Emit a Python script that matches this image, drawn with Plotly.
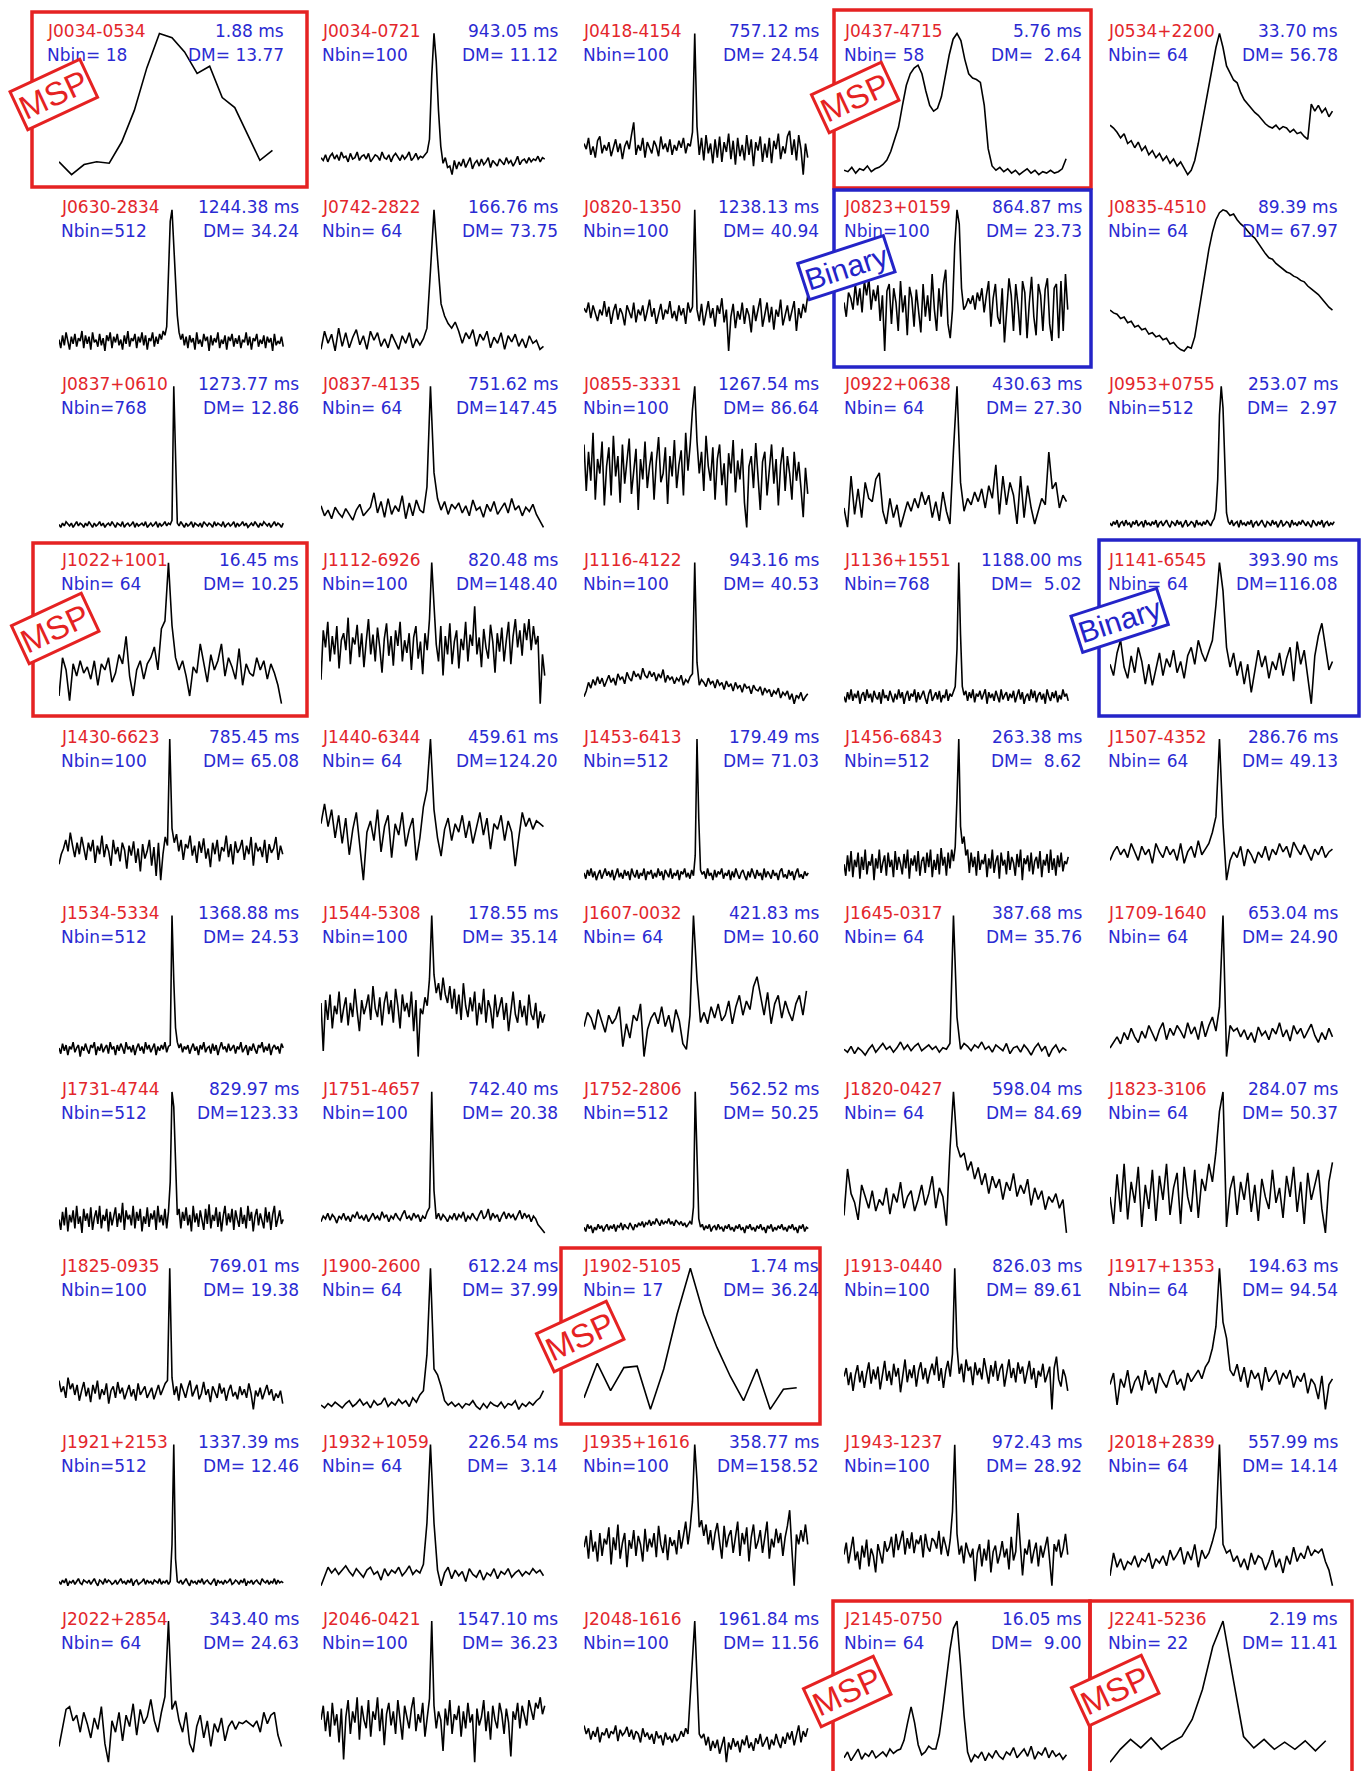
import plotly.graph_objects as go

W, H = 1362, 1771

names = ["J0034-0534", "J0034-0721", "J0418-4154", "J0437-4715", "J0534+2200",
         "J0630-2834", "J0742-2822", "J0820-1350", "J0823+0159", "J0835-4510",
         "J0837+0610", "J0837-4135", "J0855-3331", "J0922+0638", "J0953+0755",
         "J1022+1001", "J1112-6926", "J1116-4122", "J1136+1551", "J1141-6545",
         "J1430-6623", "J1440-6344", "J1453-6413", "J1456-6843", "J1507-4352",
         "J1534-5334", "J1544-5308", "J1607-0032", "J1645-0317", "J1709-1640",
         "J1731-4744", "J1751-4657", "J1752-2806", "J1820-0427", "J1823-3106",
         "J1825-0935", "J1900-2600", "J1902-5105", "J1913-0440", "J1917+1353",
         "J1921+2153", "J1932+1059", "J1935+1616", "J1943-1237", "J2018+2839",
         "J2022+2854", "J2046-0421", "J2048-1616", "J2145-0750", "J2241-5236"]

periods = [1.88, 943.05, 757.12, 5.76, 33.70,
           1244.38, 166.76, 1238.13, 864.87, 89.39,
           1273.77, 751.62, 1267.54, 430.63, 253.07,
           16.45, 820.48, 943.16, 1188.00, 393.90,
           785.45, 459.61, 179.49, 263.38, 286.76,
           1368.88, 178.55, 421.83, 387.68, 653.04,
           829.97, 742.40, 562.52, 598.04, 284.07,
           769.01, 612.24, 1.74, 826.03, 194.63,
           1337.39, 226.54, 358.77, 972.43, 557.99,
           343.40, 1547.10, 1961.84, 16.05, 2.19]

nbins = [18, 100, 100, 58, 64,
         512, 64, 100, 100, 64,
         768, 64, 100, 64, 512,
         64, 100, 100, 768, 64,
         100, 64, 512, 512, 64,
         512, 100, 64, 64, 64,
         512, 100, 512, 64, 64,
         100, 64, 17, 100, 64,
         512, 64, 100, 100, 64,
         64, 100, 100, 64, 22]

dms = [13.77, 11.12, 24.54, 2.64, 56.78,
       34.24, 73.75, 40.94, 23.73, 67.97,
       12.86, 147.45, 86.64, 27.30, 2.97,
       10.25, 148.40, 40.53, 5.02, 116.08,
       65.08, 124.20, 71.03, 8.62, 49.13,
       24.53, 35.14, 10.60, 35.76, 24.90,
       123.33, 20.38, 50.25, 84.69, 50.37,
       19.38, 37.99, 36.24, 89.61, 94.54,
       12.46, 3.14, 158.52, 28.92, 14.14,
       24.63, 36.23, 11.56, 9.00, 11.41]

# ---- pulse profiles (relative intensity) ----
prof_J0034_0534 = [10, 1, 8, 10, 9, 24, 46, 76, 100, 97, 87, 72, 77, 55, 48, 30, 11, 18]
prof_J0034_0721 = [12, 10, 14, 9, 13, 15, 11, 14, 10, 16, 12, 13, 9, 15, 11, 12, 16, 10, 13, 14,
                   11, 15, 9, 12, 14, 13, 10, 16, 12, 11, 14, 9, 13, 15, 12, 10, 14, 11, 13, 16,
                   10, 12, 15, 11, 13, 12, 14, 16, 25, 70, 100, 80, 45, 20, 8, 12, 5, 6, 0, 10,
                   4, 9, 6, 11, 5, 9, 12, 4, 8, 10, 6, 11, 7, 9, 12, 5, 10, 8, 6, 11,
                   9, 7, 12, 8, 10, 6, 9, 13, 7, 10, 11, 8, 12, 9, 11, 10, 13, 9, 12, 11]
prof_J0418_4154 = [22, 18, 26, 14, 20, 12, 24, 27, 15, 21, 17, 23, 13, 19, 25, 16, 22, 11, 20, 24,
                   18, 28, 37, 14, 21, 17, 26, 12, 23, 19, 15, 24, 20, 13, 27, 18, 22, 16, 25, 14,
                   21, 17, 24, 19, 26, 15, 22, 20, 30, 100, 34, 14, 26, 10, 28, 15, 22, 8, 25, 12,
                   27, 9, 23, 16, 29, 11, 24, 7, 26, 13, 21, 10, 28, 14, 25, 6, 23, 17, 27, 9,
                   22, 12, 26, 8, 24, 18, 29, 11, 20, 15, 27, 31, 14, 25, 10, 28, 18, 0, 22, 12]
prof_J0437_4715 = [5, 4, 7, 3, 6, 5, 8, 4, 6, 7, 9, 12, 18, 26, 35, 50, 64, 72, 76, 78,
                   72, 60, 50, 46, 48, 56, 70, 85, 96, 100, 95, 82, 72, 69, 68, 66, 50, 20, 8, 5,
                   7, 4, 6, 3, 5, 2, 4, 6, 3, 5, 2, 4, 3, 5, 3, 4, 6, 13]
prof_J0534_2200 = [35, 33, 30, 26, 29, 22, 24, 19, 23, 17, 20, 14, 17, 12, 15, 10, 13, 8, 11, 6,
                   9, 4, 0, 3, 10, 22, 36, 50, 64, 78, 90, 100, 90, 77, 72, 67, 65, 58, 53, 50,
                   47, 44, 42, 39, 36, 34, 33, 35, 32, 34, 33, 30, 32, 29, 30, 27, 25, 50, 45, 49,
                   44, 47, 41, 45]
prof_J0630_2834 = [9, 3, 12, 5, 14, 7, 2, 11, 6, 13, 4, 10, 8, 15, 3, 12,
                   6, 11, 2, 14, 7, 9, 4, 13, 5, 10, 1, 12, 8, 14, 3, 11,
                   7, 13, 5, 9, 2, 12, 6, 15, 4, 10, 8, 13, 3, 11, 7, 14,
                   5, 12, 2, 10, 8, 14, 4, 11, 6, 13, 9, 15, 12, 18, 55, 92,
                   100, 78, 48, 26, 14, 9, 13, 5, 11, 3, 12, 7, 10, 2, 14, 6,
                   9, 4, 13, 8, 11, 1, 12, 5, 10, 7, 14, 3, 9, 6, 12, 2,
                   11, 8, 13, 4, 10, 6, 12, 3, 9, 7, 14, 5, 11, 2, 10, 8,
                   13, 4, 9, 6, 12, 3, 11, 7, 10, 1, 13, 5, 8, 6, 11, 4]
prof_J0742_2822 = [8, 20, 12, 18, 7, 22, 10, 19, 9, 16, 21, 11, 17, 8, 20, 14, 19, 10, 15, 9,
                   18, 13, 8, 17, 12, 19, 9, 15, 11, 15, 22, 60, 100, 68, 38, 30, 25, 22, 26, 20,
                   12, 19, 15, 21, 10, 18, 14, 20, 9, 16, 12, 19, 8, 17, 13, 18, 10, 15, 9, 17,
                   12, 14, 8, 10]
prof_J0820_1350 = [31, 28, 35, 24, 33, 27, 22, 30, 26, 36, 25, 32, 20, 29, 34, 23, 31, 27, 19, 33,
                   28, 24, 35, 21, 30, 26, 33, 22, 29, 37, 25, 31, 20, 28, 34, 23, 30, 27, 36, 24,
                   29, 22, 33, 26, 31, 20, 35, 28, 32, 100, 30, 22, 34, 19, 28, 36, 24, 31, 18, 33,
                   27, 38, 21, 30, 1, 25, 34, 17, 29, 23, 35, 20, 31, 26, 14, 33, 22, 30, 38, 18,
                   28, 35, 21, 32, 16, 30, 25, 37, 19, 27, 33, 22, 29, 36, 15, 31, 24, 34, 28, 40]
prof_J0823_0159 = [35, 25, 42, 38, 30, 48, 33, 45, 28, 50, 40, 52, 30, 44, 36, 47, 22, 40, 1, 43,
                   48, 20, 45, 35, 15, 50, 28, 40, 12, 46, 38, 18, 44, 30, 14, 48, 25, 40, 22, 55,
                   30, 15, 45, 25, 48, 58, 20, 10, 30, 75, 100, 90, 45, 30, 33, 38, 34, 40, 30, 42,
                   36, 45, 28, 40, 50, 18, 38, 48, 25, 20, 45, 7, 30, 52, 40, 15, 48, 33, 12, 50,
                   42, 10, 35, 53, 25, 12, 48, 40, 15, 44, 52, 20, 8, 45, 48, 10, 50, 15, 55, 30]
prof_J0835_4510 = [29, 27, 26, 23, 24, 20, 21, 17, 18, 15, 16, 12, 13, 10, 11, 8, 9, 5, 6, 3,
                   1, 0, 3, 2, 10, 25, 42, 58, 72, 84, 93, 98, 100, 99, 96, 97, 93, 90, 88, 85,
                   82, 80, 76, 73, 69, 66, 65, 62, 60, 58, 56, 55, 53, 52, 50, 49, 46, 44, 42, 40,
                   37, 34, 31, 29]
prof_J0837_0610 = [3, 1, 4, 2, 5, 3, 2, 4, 1, 3, 5, 2, 4, 3, 1, 4,
                   2, 5, 3, 1, 4, 2, 3, 5, 2, 4, 1, 3, 4, 2, 5, 3,
                   1, 4, 3, 2, 5, 1, 3, 4, 2, 3, 5, 1, 4, 2, 3, 4,
                   2, 5, 1, 3, 4, 2, 3, 5, 1, 4, 2, 3, 5, 2, 4, 3,
                   6, 100, 48, 4, 2, 5, 3, 1, 4, 2, 3, 5, 1, 4, 3, 2,
                   4, 1, 5, 3, 2, 4, 3, 1, 5, 2, 4, 3, 2, 5, 1, 3,
                   4, 2, 3, 5, 1, 4, 2, 3, 5, 2, 4, 1, 3, 4, 2, 5,
                   3, 1, 4, 2, 5, 3, 2, 4, 1, 3, 5, 2, 4, 3, 1, 4]
prof_J0837_4135 = [17, 10, 14, 8, 16, 12, 9, 15, 11, 7, 14, 18, 10, 13, 16, 26, 12, 20, 9, 22,
                   11, 17, 13, 24, 8, 19, 10, 21, 14, 12, 30, 100, 40, 22, 14, 20, 11, 18, 15, 19,
                   12, 17, 10, 21, 14, 16, 9, 18, 13, 20, 11, 15, 19, 12, 22, 14, 17, 10, 16, 13,
                   18, 11, 6, 2]
prof_J0855_3331 = [60, 28, 55, 35, 68, 22, 50, 40, 62, 18, 45, 58, 25, 66, 38, 52, 20, 60, 33, 48,
                   64, 26, 42, 57, 15, 50, 36, 62, 30, 45, 55, 22, 48, 65, 34, 40, 58, 19, 52, 38,
                   63, 30, 46, 56, 25, 68, 42, 60, 84, 100, 62, 40, 55, 28, 66, 45, 35, 58, 22, 50,
                   60, 32, 47, 18, 54, 40, 63, 27, 49, 36, 57, 20, 3, 45, 52, 30, 61, 38, 15, 48,
                   55, 25, 42, 60, 33, 50, 18, 46, 58, 28, 52, 40, 22, 55, 35, 48, 30, 10, 44, 26]
prof_J0922_0638 = [24, 12, 44, 20, 36, 18, 40, 30, 28, 42, 46, 22, 14, 30, 18, 26, 12, 20, 28, 22,
                   30, 24, 34, 26, 32, 18, 28, 16, 34, 22, 14, 60, 100, 40, 22, 30, 26, 34, 28, 36,
                   24, 38, 30, 51, 20, 44, 26, 40, 32, 14, 44, 18, 38, 24, 14, 22, 30, 26, 59, 36,
                   40, 24, 32, 28]
prof_J0953_0755 = [5, 3, 6, 4, 7, 2, 5, 6, 3, 7, 4, 5, 2, 6, 4, 7,
                   3, 5, 6, 2, 7, 4, 5, 3, 6, 4, 7, 2, 5, 6, 3, 5,
                   7, 4, 2, 6, 5, 3, 7, 4, 6, 2, 5, 7, 3, 4, 6, 5,
                   2, 7, 4, 5, 3, 6, 4, 7, 5, 3, 6, 8, 14, 35, 80, 100,
                   85, 40, 12, 6, 4, 7, 3, 5, 6, 2, 7, 4, 5, 3, 6, 4,
                   7, 2, 5, 6, 3, 5, 7, 4, 2, 6, 5, 3, 7, 4, 6, 2,
                   5, 7, 3, 4, 6, 5, 2, 7, 4, 5, 3, 6, 4, 7, 5, 3,
                   6, 4, 2, 7, 5, 3, 6, 4, 7, 2, 5, 6, 3, 5, 4, 6]
prof_J1022_1001 = [13, 38, 30, 10, 34, 26, 36, 28, 32, 24, 36, 20, 34, 30, 38, 22, 28, 40, 34, 52,
                   26, 13, 30, 36, 24, 34, 38, 45, 30, 57, 62, 100, 59, 38, 30, 36, 26, 13, 32, 28,
                   47, 34, 22, 40, 30, 36, 47, 26, 38, 32, 24, 44, 20, 34, 28, 26, 38, 30, 36, 24,
                   34, 28, 20, 8]
prof_J1112_6926 = [17, 52, 40, 58, 30, 48, 35, 55, 25, 45, 50, 38, 61, 28, 47, 42, 56, 33, 50, 26,
                   44, 60, 35, 49, 30, 54, 40, 22, 46, 57, 34, 48, 27, 52, 41, 58, 30, 45, 36, 50,
                   24, 47, 55, 32, 44, 21, 50, 38, 60, 100, 70, 42, 30, 55, 20, 48, 35, 57, 28, 44,
                   52, 25, 46, 38, 58, 30, 49, 41, 69, 35, 47, 26, 53, 40, 32, 56, 44, 22, 50, 37,
                   54, 30, 45, 58, 28, 48, 60, 40, 52, 34, 57, 45, 60, 38, 55, 42, 48, 0, 35, 20]
prof_J1116_4122 = [6, 10, 16, 12, 18, 14, 20, 15, 19, 13, 17, 21, 16, 19, 14, 22, 18, 20, 15, 23,
                   19, 17, 24, 20, 22, 18, 26, 21, 19, 24, 20, 23, 17, 22, 19, 25, 16, 21, 18, 20,
                   15, 19, 17, 21, 14, 18, 16, 20, 22, 100, 30, 14, 18, 16, 13, 19, 15, 17, 12, 18,
                   14, 16, 11, 17, 13, 15, 10, 16, 12, 14, 9, 15, 12, 13, 8, 14, 11, 10, 13, 7,
                   12, 9, 11, 6, 10, 8, 12, 5, 9, 7, 10, 4, 8, 1, 7, 5, 9, 3, 6, 8]
prof_J1136_1551 = [7, 3, 10, 5, 12, 4, 9, 6, 11, 2, 8, 10, 4, 12, 6, 9,
                   3, 11, 7, 5, 10, 2, 12, 6, 8, 4, 11, 7, 3, 9, 5, 12,
                   6, 10, 2, 8, 11, 4, 9, 7, 12, 3, 10, 5, 8, 11, 6, 2,
                   9, 12, 4, 7, 10, 5, 11, 3, 8, 6, 12, 4, 9, 7, 11, 14,
                   40, 100, 50, 14, 8, 11, 4, 10, 6, 12, 3, 9, 7, 11, 5, 8,
                   12, 2, 10, 6, 9, 4, 11, 7, 3, 12, 5, 8, 10, 4, 9, 6,
                   11, 3, 8, 12, 5, 10, 2, 7, 9, 4, 12, 6, 11, 3, 8, 10,
                   5, 9, 2, 12, 7, 4, 10, 6, 11, 3, 8, 5, 12, 7, 9, 4]
prof_J1141_6545 = [28, 20, 36, 45, 26, 18, 34, 22, 40, 30, 14, 28, 13, 24, 36, 20, 32, 26, 38, 22,
                   30, 18, 34, 40, 28, 45, 36, 30, 38, 45, 70, 100, 80, 40, 26, 36, 20, 30, 14, 28,
                   8, 22, 38, 26, 34, 18, 30, 24, 36, 20, 32, 40, 16, 44, 28, 38, 20, 0, 34, 48,
                   57, 40, 24, 30]
prof_J1430_6623 = [13, 20, 24, 30, 22, 35, 26, 18, 28, 20, 32, 24, 16, 28, 22, 30, 14, 26, 20, 33,
                   18, 27, 22, 12, 30, 20, 25, 15, 28, 23, 10, 26, 19, 29, 14, 24, 8, 27, 17, 22,
                   30, 12, 25, 5, 28, 2, 20, 32, 26, 100, 38, 28, 34, 22, 30, 16, 27, 24, 33, 19,
                   26, 14, 29, 21, 31, 17, 24, 11, 28, 20, 30, 15, 25, 22, 33, 18, 27, 13, 29, 21,
                   24, 30, 16, 26, 20, 32, 12, 28, 22, 25, 18, 30, 14, 27, 21, 24, 32, 16, 26, 20]
prof_J1440_6344 = [40, 54, 38, 50, 30, 46, 26, 44, 18, 36, 48, 22, 0, 34, 42, 28, 50, 20, 38, 46,
                   16, 40, 32, 48, 24, 36, 44, 14, 30, 52, 64, 100, 50, 30, 17, 36, 44, 28, 40, 34,
                   46, 30, 42, 26, 38, 48, 32, 44, 22, 40, 36, 46, 28, 42, 34, 10, 30, 48, 38, 44,
                   36, 42, 40, 38]
prof_J1453_6413 = [8, 4, 10, 6, 11, 5, 9, 3, 7, 10, 4, 8, 11, 6, 9, 5,
                   10, 3, 7, 11, 5, 8, 4, 10, 6, 9, 3, 11, 7, 5, 10, 4,
                   8, 6, 11, 3, 9, 7, 10, 4, 8, 5, 11, 6, 9, 3, 10, 7,
                   5, 11, 4, 8, 6, 10, 3, 9, 7, 11, 5, 8, 4, 10, 6, 20,
                   100, 45, 10, 7, 9, 4, 11, 6, 8, 3, 10, 5, 9, 7, 11, 4,
                   8, 6, 10, 3, 9, 5, 11, 7, 4, 8, 10, 6, 3, 9, 5, 11,
                   7, 4, 10, 6, 8, 3, 11, 5, 9, 7, 4, 10, 6, 8, 3, 9,
                   11, 5, 7, 4, 10, 6, 9, 3, 8, 11, 5, 7, 4, 9, 6, 8]
prof_J1456_6843 = [14, 6, 20, 9, 23, 5, 17, 12, 22, 4, 19, 10, 24, 7, 16, 13,
                   21, 3, 18, 11, 24, 8, 15, 20, 6, 22, 12, 17, 5, 23, 10, 19,
                   14, 7, 21, 11, 24, 4, 18, 13, 20, 9, 23, 6, 16, 19, 8, 22,
                   12, 24, 5, 17, 10, 21, 7, 25, 13, 19, 6, 22, 11, 24, 16, 26,
                   60, 100, 40, 28, 33, 20, 24, 8, 22, 12, 19, 6, 23, 10, 17, 14,
                   21, 5, 18, 11, 24, 8, 16, 20, 4, 22, 13, 17, 7, 23, 10, 19,
                   15, 6, 21, 12, 24, 3, 18, 14, 20, 9, 22, 7, 16, 19, 11, 23,
                   5, 17, 13, 21, 8, 24, 10, 18, 6, 20, 12, 22, 9, 16, 14, 19]
prof_J1507_4352 = [14, 20, 24, 18, 22, 16, 26, 20, 14, 24, 18, 22, 12, 26, 20, 16, 24, 18, 22, 14,
                   26, 12, 20, 24, 16, 28, 18, 22, 26, 34, 45, 100, 40, 0, 14, 20, 16, 24, 10, 22,
                   18, 12, 20, 16, 24, 14, 22, 18, 26, 20, 24, 16, 27, 22, 18, 25, 20, 14, 22, 18,
                   24, 16, 20, 22]
prof_J1534_5334 = [8, 4, 11, 6, 10, 3, 9, 7, 12, 5, 8, 10, 2, 9, 6, 11,
                   7, 4, 10, 8, 12, 3, 9, 6, 11, 5, 8, 10, 4, 12, 7, 9,
                   3, 10, 6, 11, 8, 4, 12, 7, 9, 5, 10, 3, 8, 11, 6, 9,
                   4, 12, 7, 10, 5, 8, 11, 3, 9, 6, 10, 7, 12, 5, 9, 10,
                   100, 55, 22, 12, 8, 11, 5, 9, 7, 10, 4, 8, 11, 6, 9, 3,
                   10, 7, 12, 5, 8, 9, 4, 11, 6, 10, 3, 8, 12, 7, 9, 5,
                   11, 6, 8, 10, 4, 9, 7, 12, 5, 8, 10, 3, 9, 6, 11, 7,
                   4, 10, 8, 12, 5, 9, 6, 11, 3, 8, 10, 7, 9, 4, 11, 8]
prof_J1544_5308 = [38, 4, 40, 26, 44, 20, 36, 30, 46, 24, 34, 42, 22, 38, 28, 48, 32, 18, 40, 30,
                   36, 44, 26, 50, 34, 28, 42, 22, 38, 46, 30, 40, 24, 48, 36, 20, 44, 32, 38, 28,
                   46, 18, 40, 0, 34, 30, 42, 36, 55, 100, 58, 45, 52, 40, 56, 44, 38, 50, 34, 48,
                   30, 44, 26, 52, 36, 28, 42, 32, 46, 22, 38, 30, 48, 24, 40, 34, 20, 44, 28, 36,
                   42, 26, 38, 18, 34, 46, 30, 24, 40, 28, 36, 22, 44, 30, 26, 38, 20, 32, 24, 30]
prof_J1607_0032 = [22, 32, 28, 20, 34, 26, 18, 30, 24, 28, 36, 8, 24, 14, 30, 26, 38, 1, 20, 28,
                   32, 24, 36, 22, 30, 18, 34, 26, 10, 6, 30, 100, 55, 25, 32, 24, 36, 28, 38, 26,
                   30, 40, 24, 36, 44, 30, 40, 34, 50, 57, 42, 30, 46, 24, 38, 44, 28, 40, 32, 26,
                   38, 44, 30, 47]
prof_J1645_0317 = [8, 6, 10, 5, 9, 7, 4, 8, 11, 6, 9, 12, 8, 10, 6, 9, 13, 8, 11, 7,
                   10, 12, 7, 9, 11, 8, 10, 6, 9, 8, 12, 100, 30, 8, 12, 10, 7, 11, 9, 13,
                   8, 10, 6, 11, 9, 7, 12, 5, 9, 10, 6, 11, 8, 4, 9, 12, 7, 10, 3, 8,
                   11, 6, 9, 7]
prof_J1709_1640 = [6, 10, 14, 9, 17, 12, 20, 14, 10, 18, 13, 22, 16, 11, 19, 24, 12, 20, 15, 22,
                   18, 13, 24, 16, 21, 12, 25, 14, 22, 28, 18, 35, 100, 0, 22, 18, 20, 14, 19, 12,
                   17, 10, 21, 15, 18, 12, 20, 16, 24, 14, 19, 11, 22, 16, 20, 13, 18, 23, 15, 10,
                   17, 12, 20, 14]
prof_J1731_4744 = [15, 8, 20, 11, 23, 7, 18, 13, 21, 9, 24, 12, 17, 6, 22, 14,
                   19, 10, 23, 8, 16, 21, 12, 24, 9, 18, 14, 22, 7, 20, 11, 17,
                   23, 10, 19, 13, 26, 8, 21, 15, 18, 11, 24, 9, 20, 14, 22, 7,
                   17, 12, 23, 10, 19, 15, 21, 8, 24, 13, 18, 11, 22, 9, 20, 40,
                   100, 90, 45, 18, 22, 9, 20, 14, 23, 11, 18, 7, 24, 13, 19, 10,
                   21, 15, 8, 22, 12, 25, 9, 18, 14, 23, 10, 20, 7, 17, 24, 11,
                   19, 13, 22, 8, 21, 15, 10, 23, 12, 18, 9, 24, 14, 20, 7, 17,
                   22, 11, 19, 14, 9, 23, 13, 20, 8, 18, 24, 10, 16, 21, 12, 15]
prof_J1751_4657 = [8, 12, 10, 14, 9, 13, 11, 7, 12, 10, 14, 9, 12, 8, 13, 11, 15, 10, 12, 9,
                   13, 8, 11, 14, 10, 12, 9, 15, 11, 13, 8, 12, 10, 14, 11, 9, 13, 16, 10, 12,
                   9, 14, 11, 13, 8, 12, 10, 15, 18, 100, 30, 10, 14, 9, 13, 11, 8, 12, 10, 14,
                   9, 13, 11, 15, 8, 12, 10, 14, 11, 9, 13, 16, 10, 12, 17, 9, 14, 11, 13, 8,
                   12, 15, 10, 14, 11, 13, 9, 12, 16, 10, 14, 11, 13, 8, 12, 10, 6, 4, 2, 0]
prof_J1752_2806 = [6, 3, 8, 5, 7, 2, 6, 4, 8, 5, 7, 3, 6, 8, 4, 7,
                   5, 8, 3, 7, 6, 9, 4, 8, 6, 5, 9, 7, 4, 8, 6, 9,
                   7, 10, 6, 9, 8, 11, 7, 10, 8, 12, 9, 7, 11, 8, 10, 9,
                   12, 8, 10, 7, 11, 9, 8, 10, 7, 9, 6, 8, 10, 8, 20, 100,
                   60, 12, 6, 8, 4, 7, 5, 8, 3, 6, 7, 4, 8, 5, 6, 3,
                   7, 5, 8, 4, 6, 3, 7, 5, 8, 4, 6, 2, 7, 5, 8, 4,
                   6, 3, 7, 5, 8, 4, 6, 2, 7, 5, 8, 3, 6, 4, 7, 5,
                   8, 4, 6, 3, 7, 5, 8, 4, 6, 2, 7, 5, 8, 3, 6, 5]
prof_J1820_0427 = [15, 47, 30, 24, 12, 36, 28, 20, 32, 18, 26, 22, 34, 16, 30, 24, 38, 20, 28, 32,
                   18, 26, 36, 22, 30, 42, 20, 34, 28, 8, 60, 100, 63, 55, 58, 46, 52, 40, 48, 36,
                   44, 30, 42, 34, 40, 26, 38, 32, 44, 28, 36, 30, 40, 22, 34, 26, 32, 19, 28, 24,
                   30, 20, 26, 3]
prof_J1823_3106 = [30, 12, 45, 20, 52, 15, 40, 26, 50, 10, 38, 22, 48, 14, 44, 28, 52, 18, 36, 46,
                   12, 50, 30, 20, 48, 16, 42, 34, 52, 40, 60, 87, 100, 10, 35, 44, 18, 40, 28, 46,
                   20, 38, 14, 42, 30, 22, 48, 26, 36, 16, 44, 30, 50, 20, 40, 12, 46, 28, 38, 48,
                   22, 6, 40, 53]
prof_J1825_0935 = [22, 14, 18, 10, 24, 16, 20, 12, 19, 8, 15, 21, 11, 17, 7, 19, 13, 22, 9, 16,
                   12, 20, 6, 15, 18, 10, 21, 13, 17, 9, 14, 19, 11, 16, 8, 20, 12, 15, 18, 10,
                   13, 17, 9, 14, 19, 12, 16, 20, 22, 100, 24, 12, 18, 8, 20, 14, 10, 17, 22, 11,
                   15, 19, 9, 13, 21, 12, 16, 7, 18, 14, 10, 20, 13, 17, 8, 15, 19, 11, 14, 9,
                   18, 12, 16, 10, 20, 13, 2, 15, 11, 17, 9, 14, 19, 12, 16, 8, 13, 10, 15, 6]
prof_J1900_2600 = [5, 3, 6, 4, 7, 5, 3, 6, 8, 4, 6, 9, 5, 7, 3, 8, 5, 6, 10, 4,
                   7, 5, 9, 6, 8, 4, 10, 7, 12, 15, 40, 100, 30, 26, 18, 8, 5, 7, 4, 6,
                   3, 6, 5, 8, 4, 2, 6, 3, 7, 5, 4, 7, 3, 6, 5, 8, 2, 6, 4, 7,
                   5, 8, 10, 15]
prof_J1902_5105 = [10, 34, 15, 31, 32, 2, 30, 68, 100, 68, 45, 25, 8, 30, 2, 16, 17]
prof_J1913_0440 = [24, 30, 18, 27, 14, 25, 32, 20, 28, 16, 26, 34, 19, 29, 22, 31, 15, 27, 35, 21,
                   28, 18, 33, 24, 30, 13, 26, 36, 20, 29, 23, 32, 17, 28, 34, 22, 30, 19, 27, 33,
                   25, 38, 21, 30, 16, 28, 35, 24, 40, 100, 45, 26, 33, 20, 36, 28, 31, 18, 34, 25,
                   30, 22, 37, 27, 19, 32, 24, 35, 21, 29, 33, 17, 28, 36, 23, 30, 20, 34, 26, 31,
                   19, 27, 35, 22, 30, 16, 28, 24, 33, 20, 26, 31, 1, 30, 38, 22, 17, 29, 24, 14]
prof_J1917_1353 = [20, 28, 6, 24, 18, 30, 14, 22, 26, 16, 30, 20, 25, 14, 28, 22, 18, 26, 30, 20,
                   24, 16, 28, 22, 26, 30, 24, 32, 36, 45, 60, 100, 63, 52, 30, 26, 34, 22, 32, 18,
                   30, 24, 28, 16, 32, 22, 26, 30, 20, 28, 24, 30, 18, 26, 22, 28, 14, 24, 20, 10,
                   26, 3, 20, 24]
prof_J1921_2153 = [4, 2, 5, 3, 6, 1, 4, 3, 5, 2, 4, 6, 3, 2, 5, 4,
                   3, 5, 2, 4, 6, 3, 1, 5, 4, 2, 6, 3, 5, 4, 2, 3,
                   5, 2, 4, 6, 3, 4, 2, 5, 3, 6, 1, 4, 5, 2, 3, 4,
                   6, 2, 5, 3, 4, 2, 5, 4, 3, 6, 2, 4, 3, 5, 2, 4,
                   30, 100, 20, 4, 3, 5, 2, 4, 6, 3, 1, 5, 3, 4, 2, 5,
                   3, 6, 2, 4, 5, 3, 2, 4, 6, 1, 5, 3, 4, 2, 5, 3,
                   4, 6, 2, 3, 5, 4, 2, 5, 3, 6, 1, 4, 3, 5, 2, 4,
                   5, 3, 2, 6, 4, 3, 5, 2, 4, 3, 6, 2, 5, 3, 4, 3]
prof_J1932_1059 = [1, 8, 14, 10, 13, 9, 12, 15, 11, 8, 13, 10, 7, 12, 14, 9, 11, 5, 13, 8,
                   12, 10, 14, 8, 11, 15, 9, 12, 10, 16, 45, 100, 45, 12, 1, 10, 14, 6, 12, 8,
                   11, 4, 13, 9, 7, 12, 5, 10, 8, 13, 6, 11, 9, 13, 7, 10, 12, 8, 11, 9,
                   13, 10, 12, 8]
prof_J1935_1616 = [28, 36, 20, 40, 25, 32, 18, 38, 22, 34, 30, 42, 16, 35, 26, 44, 20, 31, 38, 14,
                   33, 27, 40, 22, 36, 30, 18, 41, 25, 34, 28, 38, 21, 43, 30, 24, 37, 19, 35, 29,
                   33, 23, 40, 27, 36, 46, 30, 42, 60, 100, 75, 42, 47, 36, 44, 30, 40, 26, 38, 45,
                   32, 20, 43, 28, 36, 40, 24, 34, 46, 22, 38, 30, 42, 18, 35, 44, 27, 32, 40, 24,
                   36, 46, 20, 34, 28, 41, 31, 38, 22, 35, 43, 54, 26, 1, 37, 30, 40, 32, 44, 30]
prof_J1943_1237 = [26, 34, 20, 30, 38, 22, 28, 16, 32, 24, 36, 18, 30, 25, 14, 33, 27, 20, 35, 28,
                   31, 38, 24, 40, 29, 35, 42, 26, 37, 30, 41, 27, 36, 33, 39, 24, 40, 31, 28, 37,
                   35, 30, 42, 26, 38, 32, 25, 36, 55, 100, 40, 26, 32, 20, 34, 28, 24, 30, 8, 27,
                   33, 18, 30, 22, 36, 14, 28, 32, 20, 26, 35, 24, 30, 16, 38, 22, 28, 54, 33, 12,
                   30, 26, 36, 20, 28, 34, 18, 32, 24, 30, 38, 22, 5, 33, 28, 36, 24, 30, 40, 26]
prof_J2018_2839 = [8, 24, 14, 20, 12, 18, 16, 22, 14, 20, 18, 24, 13, 20, 17, 22, 15, 26, 19, 23,
                   28, 16, 25, 19, 30, 14, 26, 20, 24, 32, 42, 100, 30, 24, 26, 18, 22, 14, 20, 12,
                   24, 16, 22, 20, 12, 18, 26, 14, 20, 10, 22, 16, 28, 18, 24, 20, 29, 22, 26, 24,
                   27, 18, 12, 1]
prof_J2022_2854 = [12, 26, 38, 40, 30, 34, 22, 36, 28, 18, 32, 24, 40, 14, 1, 30, 22, 36, 16, 34,
                   26, 42, 20, 38, 28, 33, 45, 30, 22, 36, 47, 100, 38, 44, 30, 22, 36, 14, 8, 26,
                   34, 18, 30, 12, 28, 22, 32, 16, 26, 30, 24, 29, 28, 30, 28, 26, 30, 22, 36, 28,
                   34, 36, 20, 12]
prof_J2046_0421 = [30, 40, 22, 36, 18, 42, 26, 34, 14, 38, 2, 32, 44, 20, 36, 28, 46, 16, 40, 30,
                   24, 44, 18, 36, 30, 46, 22, 38, 12, 34, 42, 26, 36, 20, 44, 30, 16, 40, 32, 24,
                   38, 46, 22, 34, 28, 42, 18, 30, 45, 100, 40, 24, 36, 30, 8, 38, 26, 44, 20, 34,
                   30, 40, 18, 36, 24, 42, 28, 34, 0, 38, 26, 32, 44, 22, 36, 16, 40, 30, 24, 42,
                   34, 20, 38, 28, 4, 36, 30, 42, 24, 40, 32, 26, 44, 36, 30, 42, 38, 46, 34, 40]
prof_J2048_1616 = [26, 20, 24, 16, 22, 18, 25, 14, 21, 19, 24, 17, 22, 20, 26, 15, 23, 19, 21, 25,
                   18, 23, 16, 22, 20, 14, 24, 18, 21, 16, 20, 13, 22, 17, 19, 12, 21, 16, 18, 14,
                   20, 15, 17, 22, 18, 24, 20, 45, 75, 100, 60, 20, 17, 20, 12, 18, 8, 15, 10, 16,
                   6, 13, 18, 0, 14, 9, 17, 11, 15, 7, 16, 12, 19, 10, 14, 8, 17, 13, 20, 11,
                   15, 18, 9, 16, 12, 20, 14, 10, 18, 13, 21, 16, 22, 12, 19, 26, 14, 22, 18, 24]
prof_J2145_0750 = [6, 10, 4, 8, 12, 5, 9, 7, 11, 6, 8, 10, 7, 12, 9, 11, 12, 18, 30, 41,
                   30, 15, 8, 10, 14, 12, 12, 22, 40, 60, 80, 95, 100, 70, 35, 10, 3, 8, 6, 10,
                   4, 9, 6, 11, 7, 5, 10, 8, 13, 6, 9, 12, 7, 14, 5, 10, 8, 13, 6, 11,
                   7, 9, 5, 8]
prof_J2241_5236 = [1, 10, 17, 11, 18, 10, 15, 19, 31, 52, 82, 100, 59, 19, 11, 17, 10, 15, 10, 16, 9, 16]

profiles = [prof_J0034_0534, prof_J0034_0721, prof_J0418_4154, prof_J0437_4715, prof_J0534_2200,
            prof_J0630_2834, prof_J0742_2822, prof_J0820_1350, prof_J0823_0159, prof_J0835_4510,
            prof_J0837_0610, prof_J0837_4135, prof_J0855_3331, prof_J0922_0638, prof_J0953_0755,
            prof_J1022_1001, prof_J1112_6926, prof_J1116_4122, prof_J1136_1551, prof_J1141_6545,
            prof_J1430_6623, prof_J1440_6344, prof_J1453_6413, prof_J1456_6843, prof_J1507_4352,
            prof_J1534_5334, prof_J1544_5308, prof_J1607_0032, prof_J1645_0317, prof_J1709_1640,
            prof_J1731_4744, prof_J1751_4657, prof_J1752_2806, prof_J1820_0427, prof_J1823_3106,
            prof_J1825_0935, prof_J1900_2600, prof_J1902_5105, prof_J1913_0440, prof_J1917_1353,
            prof_J1921_2153, prof_J1932_1059, prof_J1935_1616, prof_J1943_1237, prof_J2018_2839,
            prof_J2022_2854, prof_J2046_0421, prof_J2048_1616, prof_J2145_0750, prof_J2241_5236]

# highlight categories
msp_panels = ["J0034-0534", "J0437-4715", "J1022+1001", "J1902-5105", "J2145-0750", "J2241-5236"]
binary_panels = ["J0823+0159", "J1141-6545"]

# ---- layout geometry (pixels) ----
RED = "#e3262b"
BLUE = "#2a2ad2"
BOX_RED = "#e52222"
BOX_BLUE = "#2424c8"
FONT = "DejaVu Sans"
col_left = [59, 321, 584, 844, 1110]
text_left = [59, 320, 581, 842, 1106]
text_right = [301, 560, 821, 1084, 1340]
AX_W = 226
ROW0, ROW_H = 30, 176.4

boxes = {  # panel name -> (x0, y0, x1, y1)
    "J0034-0534": (32, 12, 307, 187),
    "J0437-4715": (834, 10, 1091, 188),
    "J0823+0159": (834, 190, 1091, 367),
    "J1022+1001": (33, 543, 307, 716),
    "J1141-6545": (1099, 540, 1359, 716),
    "J1902-5105": (561, 1248, 820, 1424),
    "J2145-0750": (833, 1601, 1090, 1790),
    "J2241-5236": (1090, 1601, 1352, 1790),
}
stamps = {  # panel name -> (cx, cy)
    "J0034-0534": (54, 95),
    "J0437-4715": (855, 97),
    "J0823+0159": (847, 268),
    "J1022+1001": (55, 628),
    "J1141-6545": (1119, 620),
    "J1902-5105": (580, 1336),
    "J2145-0750": (847, 1691),
    "J2241-5236": (1115, 1690),
}


def px(x):
    return x / W


def py(y):
    return 1 - y / H


fig = go.Figure()
layout = dict(width=W, height=H, margin=dict(l=0, r=0, t=0, b=0),
              paper_bgcolor="white", plot_bgcolor="white", showlegend=False)
annotations = []
shapes = []

for i, vals in enumerate(profiles):
    r, c = divmod(i, 5)
    k = "" if i == 0 else str(i + 1)
    y0 = ROW0 + ROW_H * r
    L = col_left[c]
    n = len(vals)
    xs = [j / n for j in range(n)]
    fig.add_trace(go.Scatter(x=xs, y=vals, mode="lines",
                             line=dict(color="black", width=1.6),
                             xaxis="x" + k, yaxis="y" + k, hoverinfo="skip"))
    layout["xaxis" + k] = dict(domain=[px(L), px(L + AX_W)], range=[0, 1], visible=False,
                               fixedrange=True, anchor="y" + k)
    layout["yaxis" + k] = dict(domain=[py(y0 + 146), py(y0 + 2)],
                               range=[min(vals) - 1, max(vals) + 1], visible=False,
                               fixedrange=True, anchor="x" + k)
    tl = text_left[c]
    tr = text_right[c]
    if i == 0:
        tl, tr = 45, 286
    nb = "Nbin=" + f"{nbins[i]:3d}".replace(" ", "\u00a0")
    dm = "DM=" + f"{dms[i]:6.2f}".replace(" ", "\u00a0")
    for txt, x, anchor, yy, col in [
        (names[i], tl, "left", y0 + 1, RED),
        (f"{periods[i]:.2f} ms", tr, "right", y0 + 1, BLUE),
        (nb, tl, "left", y0 + 25, BLUE),
        (dm, tr, "right", y0 + 25, BLUE),
    ]:
        annotations.append(dict(x=px(x), y=py(yy), xref="paper", yref="paper", text=txt,
                                showarrow=False, xanchor=anchor, yanchor="middle",
                                font=dict(family=FONT, size=17, color=col)))

for nm, (x0, y0b, x1, y1b) in boxes.items():
    col = BOX_BLUE if nm in binary_panels else BOX_RED
    shapes.append(dict(type="rect", xref="paper", yref="paper",
                       x0=px(x0), x1=px(x1), y0=py(y1b), y1=py(y0b),
                       line=dict(color=col, width=3.5), layer="above"))

for nm, (cx, cy) in stamps.items():
    is_bin = nm in binary_panels
    annotations.append(dict(x=px(cx), y=py(cy), xref="paper", yref="paper",
                            text="Binary" if is_bin else "MSP", showarrow=False,
                            xanchor="center", yanchor="middle",
                            textangle=-18 if is_bin else -25,
                            font=dict(family="Liberation Sans", size=30 if is_bin else 33,
                                      color=BOX_BLUE if is_bin else BOX_RED),
                            bordercolor=BOX_BLUE if is_bin else BOX_RED,
                            borderwidth=3, borderpad=1, bgcolor="white"))

layout["annotations"] = annotations
layout["shapes"] = shapes
fig.update_layout(**layout)
fig.write_html("out.html", config={"displayModeBar": False},
               post_script="document.body.style.margin='0px';")
